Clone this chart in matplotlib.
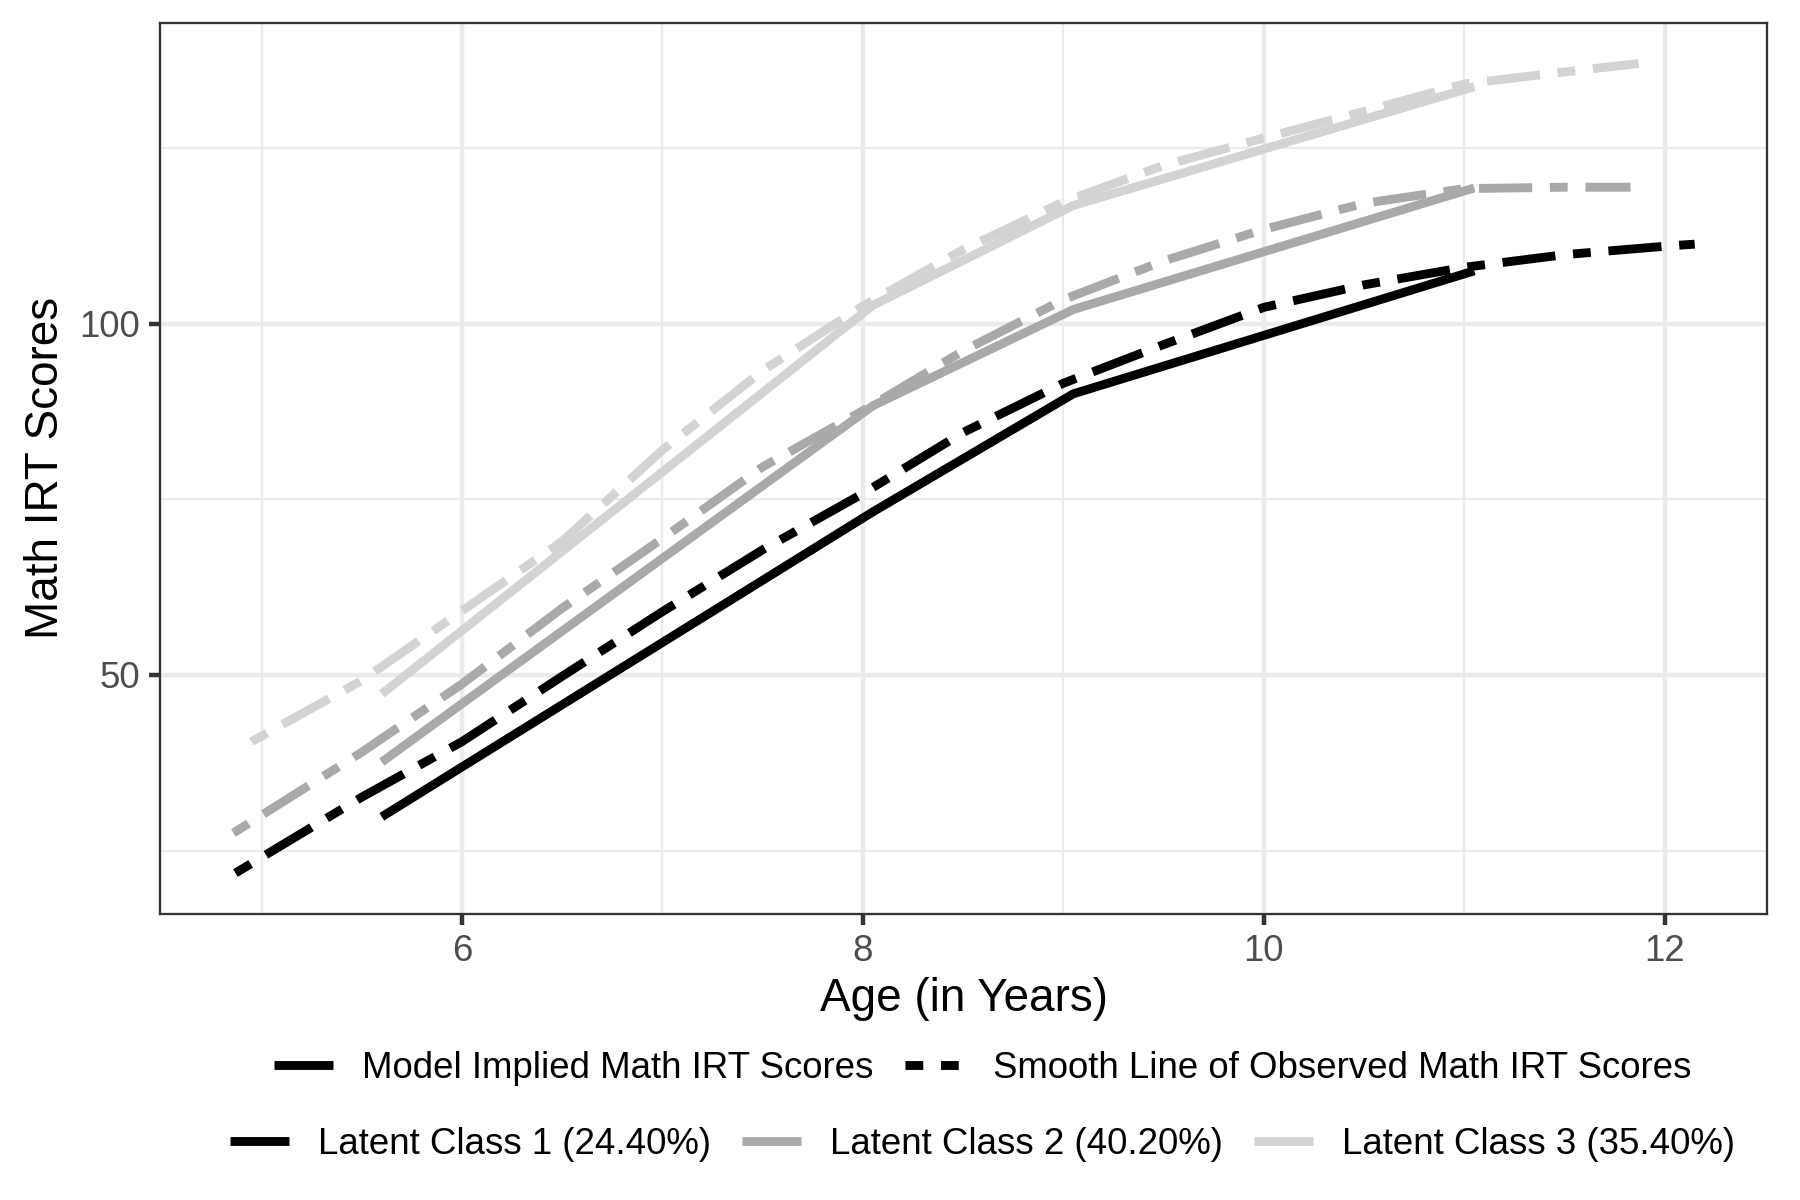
import matplotlib.pyplot as plt
from matplotlib.lines import Line2D

plt.rcParams['font.family'] = ['Liberation Sans', 'DejaVu Sans']

# model implied trajectories (solid lines)
model_age = [5.6, 6.0, 8.05, 9.05, 11.05]
class1_model = [29.8, 36.9, 73.2, 90.0, 107.5]
class2_model = [37.6, 45.9, 88.3, 102.0, 119.3]
class3_model = [47.3, 56.3, 102.6, 116.8, 133.7]

# smooth lines of observed scores (twodash)
class1_smooth_age = [4.87, 5.5, 6, 6.5, 7, 7.5, 8, 8.5, 9, 9.5, 10, 10.5, 11, 11.5, 12, 12.15]
class1_smooth = [21.8, 32.6, 40.5, 49.8, 59.0, 67.8, 75.8, 84.5, 91.5, 97.0, 102.3, 105.5, 108.0, 109.8, 111.0, 111.3]
class2_smooth_age = [4.86, 5.5, 6, 6.5, 7, 7.5, 8, 8.5, 9, 9.5, 10, 10.5, 11, 11.5, 11.83]
class2_smooth = [27.5, 39.0, 48.7, 59.5, 69.4, 79.6, 87.6, 96.1, 103.4, 108.9, 113.4, 117.1, 119.2, 119.4, 119.4]
class3_smooth_age = [4.95, 5.5, 6, 6.5, 7, 7.5, 8, 8.5, 9, 9.5, 10, 10.5, 11, 11.5, 11.87]
class3_smooth = [40.5, 49.2, 59.1, 69.0, 82.0, 93.3, 102.5, 110.5, 117.3, 122.5, 126.4, 130.2, 134.1, 135.8, 137.0]

class_labels = ["Latent Class 1 (24.40%)", "Latent Class 2 (40.20%)", "Latent Class 3 (35.40%)"]
type_labels = ["Model Implied Math IRT Scores", "Smooth Line of Observed Math IRT Scores"]
colors = ["#000000", "#A9A9A9", "#D3D3D3"]

lw = 2.13
twodash = (0, (2, 2, 6, 2))
grey20 = "#333333"

fig = plt.figure(figsize=(6, 4), dpi=300)
ax = fig.add_axes([0.0891, 0.2385, 0.8925, 0.7425])

models = [class1_model, class2_model, class3_model]
smooth_x = [class1_smooth_age, class2_smooth_age, class3_smooth_age]
smooth_y = [class1_smooth, class2_smooth, class3_smooth]
for i in range(3):
    ax.plot(model_age, models[i], color=colors[i], lw=lw, solid_capstyle="butt", zorder=3)
    ax.plot(smooth_x[i], smooth_y[i], color=colors[i], lw=lw, linestyle=twodash,
            dash_capstyle="butt", zorder=3)

ax.set_xlim(4.4955, 12.51)
ax.set_ylim(16.0, 142.8)
ax.set_xticks([6, 8, 10, 12])
ax.set_xticks([5, 7, 9, 11], minor=True)
ax.set_yticks([50, 100])
ax.set_yticks([25, 75, 125], minor=True)

ax.grid(which="major", color="#EBEBEB", lw=1.07, zorder=0)
ax.grid(which="minor", color="#EBEBEB", lw=0.53, zorder=0)
ax.set_axisbelow(True)
for s in ax.spines.values():
    s.set_color(grey20)
    s.set_linewidth(0.55)
ax.tick_params(which="major", length=2.75, width=1.07, color=grey20, pad=2.2,
               labelsize=8.8, labelcolor="#4D4D4D")
ax.tick_params(which="minor", length=0)

ax.set_xlabel("Age (in Years)", fontsize=11, labelpad=1.8)
ax.set_ylabel("Math IRT Scores", fontsize=11, labelpad=2.75)

type_handles = [Line2D([], [], color="black", lw=lw, solid_capstyle="butt"),
                Line2D([], [], color="black", lw=lw, linestyle=(0, (2, 2)), dash_capstyle="butt")]
leg1 = fig.legend(type_handles, type_labels, loc="center", bbox_to_anchor=(0.546, 0.1095),
                  ncol=2, frameon=False, fontsize=8.8, handlelength=1.6,
                  handletextpad=0.8, columnspacing=0.85)
class_handles = [Line2D([], [], color=c, lw=lw, solid_capstyle="butt") for c in colors]
leg2 = fig.legend(class_handles, class_labels, loc="center", bbox_to_anchor=(0.546, 0.046),
                  ncol=3, frameon=False, fontsize=8.8, handlelength=1.6,
                  handletextpad=0.8, columnspacing=0.85)

fig.savefig("out.png", dpi=300)
